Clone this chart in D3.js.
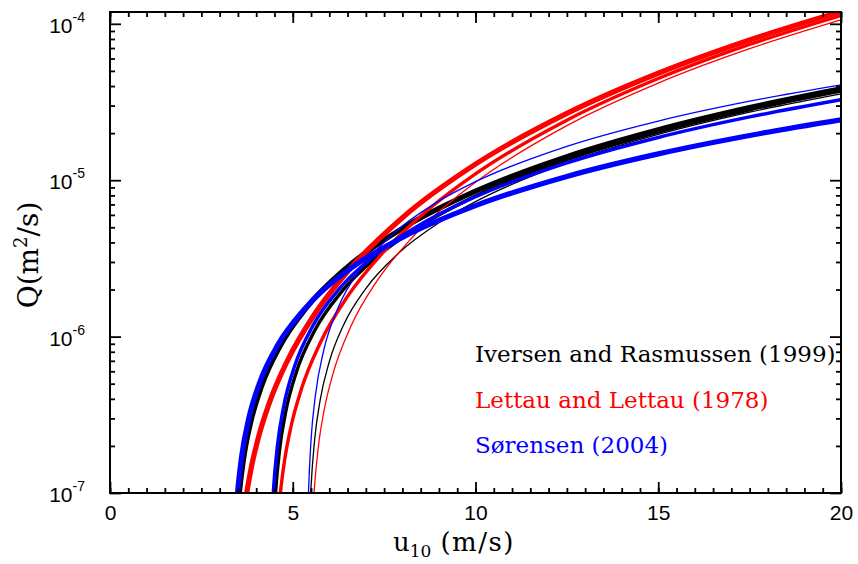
<!DOCTYPE html>
<html>
<head>
<meta charset="utf-8">
<script src="https://cdn.jsdelivr.net/npm/d3@7"></script>
<style>
  body { margin: 0; background: #fff; }
  svg { display: block; }
</style>
</head>
<body>
<div id="chart"></div>
<script>
'use strict';

// u10 (m/s) -> Q (m^2/s), one array per curve
// thick lines: lowest threshold, medium: middle threshold, thin: highest threshold
const iversenThick = [[3.52,8.95e-8],[3.54,1.005e-7],[3.65,1.63e-7],[3.85,2.84e-7],[4.15,4.85e-7],[4.65,8.68e-7],[5.35,1.503e-6],[6.5,2.79e-6],[8,4.92e-6],[10,8.51e-6],[12.5,1.415e-5],[15,2.10e-5],[17.5,2.91e-5],[20,3.84e-5]];
const iversenMid   = [[4.51,8.5e-8],[4.53,1.008e-7],[4.64,1.896e-7],[4.8,3.243e-7],[5.1,5.94e-7],[5.6,1.093e-6],[6.35,1.953e-6],[7.35,3.30e-6],[8.65,5.38e-6],[10,7.91e-6],[12.5,1.354e-5],[15,2.033e-5],[17.5,2.823e-5],[20,3.72e-5]];
const iversenThin  = [[5.48,8.71e-8],[5.5,1.091e-7],[5.6,2.207e-7],[5.75,3.927e-7],[6.0,6.91e-7],[6.4,1.20e-6],[7.0,2.03e-6],[7.9,3.42e-6],[9.0,5.34e-6],[10,7.29e-6],[12.5,1.294e-5],[15,1.961e-5],[17.5,2.722e-5],[20,3.57e-5]];

const lettauThick = [[3.70,8.62e-8],[3.74,9.97e-8],[3.85,1.394e-7],[4.05,2.218e-7],[4.35,3.717e-7],[4.85,6.98e-7],[5.55,1.34e-6],[6.5,2.61e-6],[8,5.76e-6],[10,1.266e-5],[12.5,2.674e-5],[15,4.83e-5],[17.5,7.88e-5],[20,1.197e-4]];
const lettauMid   = [[4.63,8.39e-8],[4.66,9.91e-8],[4.78,1.633e-7],[4.95,2.643e-7],[5.25,4.72e-7],[5.75,9.10e-7],[6.5,1.807e-6],[7.5,3.515e-6],[8.75,6.62e-6],[10,1.098e-5],[12.5,2.42e-5],[15,4.467e-5],[17.5,7.38e-5],[20,1.13e-4]];
const lettauThin  = [[5.56,8.3e-8],[5.58,9.87e-8],[5.7,1.972e-7],[5.85,3.303e-7],[6.1,5.78e-7],[6.6,1.176e-6],[7.3,2.262e-6],[8.2,4.131e-6],[9.2,6.905e-6],[10,9.71e-6],[12.5,2.235e-5],[15,4.18e-5],[17.5,6.93e-5],[20,1.06e-4]];

const sorensenThick = [[3.47,8.8e-8],[3.49,1.005e-7],[3.6,1.70e-7],[3.8,3.02e-7],[4.1,5.12e-7],[4.6,8.92e-7],[5.3,1.48e-6],[6.5,2.64e-6],[8,4.31e-6],[10,6.88e-6],[12.5,1.058e-5],[15,1.474e-5],[17.5,1.933e-5],[20,2.431e-5]];
const sorensenMid   = [[4.45,8.57e-8],[4.47,1.031e-7],[4.58,2.006e-7],[4.75,3.563e-7],[5.05,6.46e-7],[5.55,1.172e-6],[6.3,2.054e-6],[7.3,3.39e-6],[8.6,5.38e-6],[10,7.83e-6],[12.5,1.289e-5],[15,1.876e-5],[17.5,2.538e-5],[20,3.27e-5]];
const sorensenThin  = [[5.42,8.29e-8],[5.43,9.96e-8],[5.5,2.169e-7],[5.62,4.21e-7],[5.85,8.21e-7],[6.25,1.544e-6],[6.9,2.793e-6],[7.8,4.657e-6],[9,7.36e-6],[10,9.79e-6],[12.5,1.647e-5],[15,2.39e-5],[17.5,3.20e-5],[20,4.07e-5]];

const legendLabels = ['Iversen and Rasmussen (1999)', 'Lettau and Lettau (1978)', 'S\u00f8rensen (2004)'];
const xTicks = [0, 5, 10, 15, 20];
const yDecades = [-7, -6, -5, -4];

// layout
const width = 858, height = 564;
const margin = {top: 12, right: 17, bottom: 71, left: 110};
const black = '#000', red = '#ff0000', blue = '#0000ff';

const series = [
    {data: iversenThin,   color: black, w: 1.3},
    {data: iversenMid,    color: black, w: 3.4},
    {data: iversenThick,  color: black, w: 5.2},
    {data: lettauThin,    color: red,   w: 1.3},
    {data: lettauMid,     color: red,   w: 3.4},
    {data: lettauThick,   color: red,   w: 5.2},
    {data: sorensenThin,  color: blue,  w: 1.3},
    {data: sorensenMid,   color: blue,  w: 3.4},
    {data: sorensenThick, color: blue,  w: 5.2}
];

const svg = d3.select('#chart').append('svg')
    .attr('width', width)
    .attr('height', height);

const x = d3.scaleLinear().domain([0, 20]).range([margin.left, width - margin.right]);
const y = d3.scaleLog().domain([1e-7, 1.19e-4]).range([height - margin.bottom, margin.top]);

// clip for the curves
svg.append('clipPath').attr('id', 'plot-clip')
    .append('rect')
    .attr('x', x(0)).attr('y', y.range()[1])
    .attr('width', x(20) - x(0)).attr('height', y.range()[0] - y.range()[1]);

const line = d3.line()
    .x(d => x(d[0]))
    .y(d => y(d[1]))
    .curve(d3.curveMonotoneX);

const curves_g = svg.append('g').attr('clip-path', 'url(#plot-clip)');
curves_g.selectAll('path')
    .data(series)
    .enter()
    .append('path')
    .attr('d', d => line(d.data))
    .attr('fill', 'none')
    .attr('stroke', d => d.color)
    .attr('stroke-width', d => d.w)
    .attr('stroke-linejoin', 'round');

// minor tick values
const xMinor = d3.range(0, 20.001, 0.5);
const yMinor = [];
yDecades.forEach(e => {
    for (let k = 2; k <= 9; k++) {
        const v = k * Math.pow(10, e);
        if (v <= y.domain()[1]) yMinor.push(v);
    }
});
const yMajor = yDecades.map(e => Math.pow(10, e));

const bottomY = y.range()[0], topY = y.range()[1];
const leftX = x.range()[0], rightX = x.range()[1];

function styleAxis(g) {
    g.select('.domain').remove();
    g.selectAll('.tick line').attr('stroke', '#000').attr('stroke-width', 1.8);
}

// x axis (bottom and mirrored top)
svg.append('g').attr('transform', `translate(0,${bottomY})`)
    .call(d3.axisBottom(x).tickValues(xMinor).tickSize(-5).tickFormat(''))
    .call(styleAxis);
svg.append('g').attr('transform', `translate(0,${bottomY})`)
    .call(d3.axisBottom(x).tickValues(xTicks).tickSize(-11).tickPadding(12).tickFormat(d3.format('d')))
    .call(styleAxis)
    .call(g => g.selectAll('text')
        .attr('fill', '#000')
        .attr('font-family', '"Liberation Sans", Arial, sans-serif')
        .attr('font-size', 21));
svg.append('g').attr('transform', `translate(0,${topY})`)
    .call(d3.axisTop(x).tickValues(xMinor).tickSize(-5).tickFormat(''))
    .call(styleAxis);
svg.append('g').attr('transform', `translate(0,${topY})`)
    .call(d3.axisTop(x).tickValues(xTicks).tickSize(-11).tickFormat(''))
    .call(styleAxis);

// y axis (left and mirrored right)
svg.append('g').attr('transform', `translate(${leftX},0)`)
    .call(d3.axisLeft(y).tickValues(yMinor).tickSize(-5).tickFormat(''))
    .call(styleAxis);
svg.append('g').attr('transform', `translate(${leftX},0)`)
    .call(d3.axisLeft(y).tickValues(yMajor).tickSize(-11).tickFormat(''))
    .call(styleAxis);
svg.append('g').attr('transform', `translate(${rightX},0)`)
    .call(d3.axisRight(y).tickValues(yMinor).tickSize(-5).tickFormat(''))
    .call(styleAxis);
svg.append('g').attr('transform', `translate(${rightX},0)`)
    .call(d3.axisRight(y).tickValues(yMajor).tickSize(-11).tickFormat(''))
    .call(styleAxis);

// y tick labels as 10^e
const ylab = svg.append('g')
    .attr('font-family', '"Liberation Sans", Arial, sans-serif')
    .attr('fill', '#000');
yDecades.forEach(e => {
    const t = ylab.append('text')
        .attr('x', 85)
        .attr('y', y(Math.pow(10, e)) + 9)
        .attr('text-anchor', 'end')
        .attr('font-size', 21);
    t.append('tspan').text('10');
    t.append('tspan').attr('dy', -11).attr('font-size', 14).text('-' + Math.abs(e));
});

// frame
svg.append('rect')
    .attr('x', leftX).attr('y', topY)
    .attr('width', rightX - leftX).attr('height', bottomY - topY)
    .attr('fill', 'none')
    .attr('stroke', '#000')
    .attr('stroke-width', 2);

// axis titles
const serif = '"DejaVu Serif", "Liberation Serif", serif';
const xt = svg.append('text')
    .attr('x', 393).attr('y', 551)
    .attr('font-family', serif).attr('font-size', 26).attr('fill', '#000');
xt.append('tspan').text('u');
xt.append('tspan').attr('dy', 6).attr('font-size', 17).text('10');
xt.append('tspan').attr('dy', -6).attr('dx', 9).attr('letter-spacing', 1.5).text('(m/s)');

const yt = svg.append('text')
    .attr('transform', 'translate(38,255) rotate(-90)')
    .attr('text-anchor', 'middle')
    .attr('font-family', serif).attr('font-size', 28).attr('fill', '#000');
yt.append('tspan').text('Q(m');
yt.append('tspan').attr('dy', -11).attr('font-size', 18).text('2');
yt.append('tspan').attr('dy', 11).text('/s)');

// legend
const legendColors = [black, red, blue];
svg.append('g')
    .selectAll('text')
    .data(legendLabels)
    .enter()
    .append('text')
    .attr('x', 475)
    .attr('y', (d, i) => 362 + i * 45.5)
    .attr('font-family', serif)
    .attr('font-size', 23)
    .attr('fill', (d, i) => legendColors[i])
    .text(d => d);
</script>
</body>
</html>
